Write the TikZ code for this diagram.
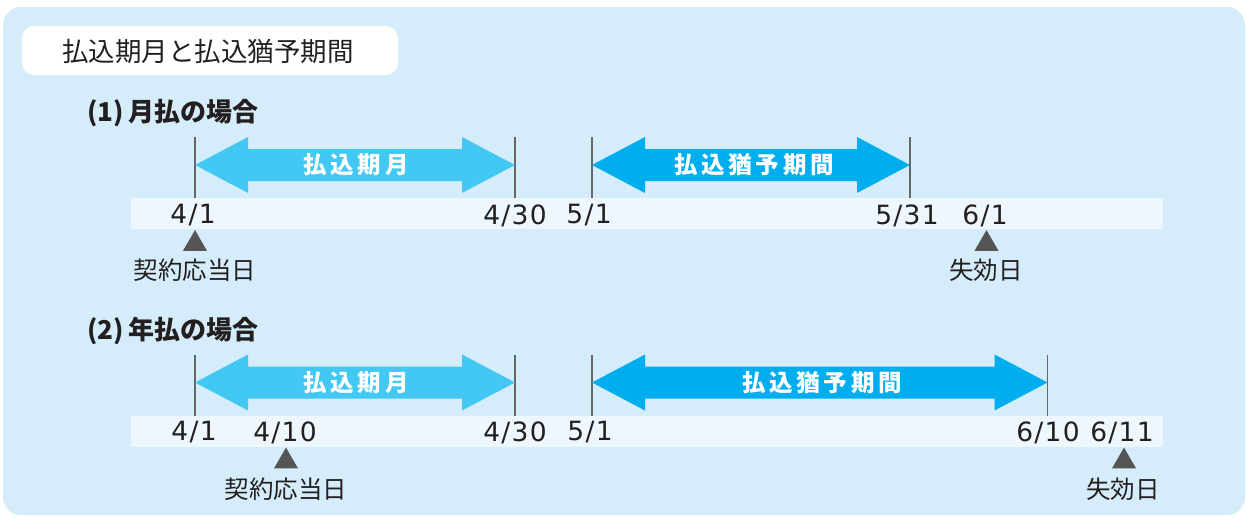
\documentclass[tikz,border=0pt]{standalone}
\usepackage{fontspec}
\usetikzlibrary{shapes.geometric}
\setmainfont{Noto Sans CJK JP}
\newfontfamily\dgJp{Noto Sans CJK JP}
\newfontfamily\dgDigits[LetterSpace=5]{DejaVu Sans}
\newfontfamily\dgJpArr[LetterSpace=16]{Noto Sans CJK JP}
\newcommand\dgDateFont{\dgDigits\fontsize{26.5}{30}\selectfont}
\newcommand\dgLabFont{\dgJp\fontsize{24.5}{28}\selectfont}
\newcommand\dgTitleFont{\dgJp\fontsize{26.5}{30}\selectfont}
\newcommand\dgHeadFont{\dgJp\bfseries\fontsize{26}{30}\selectfont}
\newcommand\dgArrFont{\dgJpArr\bfseries\fontsize{23.5}{26}\selectfont}
\definecolor{panelc}{HTML}{D5EDFA}
\definecolor{stripc}{HTML}{EEF7FD}
\definecolor{arrA}{HTML}{42C8F2}
\definecolor{arrB}{HTML}{00AEEF}
\definecolor{tickc}{HTML}{666666}
\definecolor{tric}{HTML}{555555}
\definecolor{ink}{HTML}{231F20}
% double arrow: color, x1, x2, yc
\newcommand\dgDblArrow[4]{%
  \fill[#1] (#2,#4) -- ({#2+53},{#4-28}) -- ({#2+53},{#4-16}) -- ({#3-53},{#4-16})
    -- ({#3-53},{#4-28}) -- (#3,#4) -- ({#3-53},{#4+28}) -- ({#3-53},{#4+16})
    -- ({#2+53},{#4+16}) -- ({#2+53},{#4+28}) -- cycle;}
\begin{document}
\begin{tikzpicture}[x=1pt,y=-1pt,
  tickline/.style={draw=tickc, line width=1.3pt},
  datelbl/.style={font=\dgDateFont, text=ink, inner sep=0pt},
  jplbl/.style={font=\dgLabFont, text=ink, inner sep=0pt},
  titlelbl/.style={font=\dgTitleFont, text=ink, inner sep=0pt},
  headlbl/.style={font=\dgHeadFont, text=ink, inner sep=0pt, anchor=west},
  arrlbl/.style={font=\dgArrFont, text=white, inner sep=0pt},
  tri/.style={regular polygon, regular polygon sides=3, fill=tric, minimum size=27.7pt, inner sep=0pt},
  strip/.style={fill=stripc}
]
\useasboundingbox (0,0) rectangle (1247,517);
\fill[white] (0,0) rectangle (1247,517);
\fill[panelc, rounded corners=18pt] (3,7) rectangle (1245,515);
% title
\fill[white, rounded corners=12pt] (22,26) rectangle (398,75);
\node[titlelbl] (title) at (208,51.5) {払込期月と払込猶予期間};

% ---------- (1) ----------
\node[headlbl] (h1) at (87,113) {(1)\,月払の場合};
\fill[strip] (131,198) rectangle (1163,229);
\coordinate (a1t) at (195,137); \coordinate (a1b) at (195,198);
\coordinate (b1t) at (515,137); \coordinate (b1b) at (515,198);
\coordinate (c1t) at (592,137); \coordinate (c1b) at (592,198);
\coordinate (d1t) at (910,137); \coordinate (d1b) at (910,198);
\foreach \p in {a1,b1,c1,d1} \draw[tickline] (\p t) -- (\p b);
\dgDblArrow{arrA}{195}{515}{165}
\dgDblArrow{arrB}{592}{910}{165}
\node[arrlbl] (p1) at (356,165) {払込期月};
\node[arrlbl] (g1) at (754,165) {払込猶予期間};
\node[datelbl] (d41a) at (193,215.5) {4/1};
\node[datelbl] (d430a) at (515,215.5) {4/30};
\node[datelbl] (d51a) at (589,215.5) {5/1};
\node[datelbl] (d531a) at (907,215.5) {5/31};
\node[datelbl] (d61a) at (985,215.5) {6/1};
\node[tri] (t1a) at (195,243.9) {};
\node[tri] (t1b) at (986.5,243.9) {};
\node[jplbl] (k1) at (195,270) {契約応当日};
\node[jplbl] (s1) at (986,270) {失効日};

% ---------- (2) ----------
\node[headlbl] (h2) at (87,331) {(2)\,年払の場合};
\fill[strip] (131,416) rectangle (1163,447);
\coordinate (a2t) at (195,354.5); \coordinate (a2b) at (195,416);
\coordinate (b2t) at (515,354.5); \coordinate (b2b) at (515,416);
\coordinate (c2t) at (592,354.5); \coordinate (c2b) at (592,416);
\coordinate (d2t) at (1047.5,354.5); \coordinate (d2b) at (1047.5,416);
\foreach \p in {a2,b2,c2,d2} \draw[tickline] (\p t) -- (\p b);
\dgDblArrow{arrA}{195}{515}{382.5}
\dgDblArrow{arrB}{592}{1047.5}{382.5}
\node[arrlbl] (p2) at (356,382.5) {払込期月};
\node[arrlbl] (g2) at (822,382.5) {払込猶予期間};
\node[datelbl] (d41b) at (194,432.5) {4/1};
\node[datelbl] (d410b) at (285,432.5) {4/10};
\node[datelbl] (d430b) at (515,432.5) {4/30};
\node[datelbl] (d51b) at (590,432.5) {5/1};
\node[datelbl] (d610b) at (1048,432.5) {6/10};
\node[datelbl] (d611b) at (1122,432.5) {6/11};
\node[tri] (t2a) at (286,461.4) {};
\node[tri] (t2b) at (1124,461.4) {};
\node[jplbl] (k2) at (286,489.5) {契約応当日};
\node[jplbl] (s2) at (1123,489.5) {失効日};
\end{tikzpicture}
\end{document}
